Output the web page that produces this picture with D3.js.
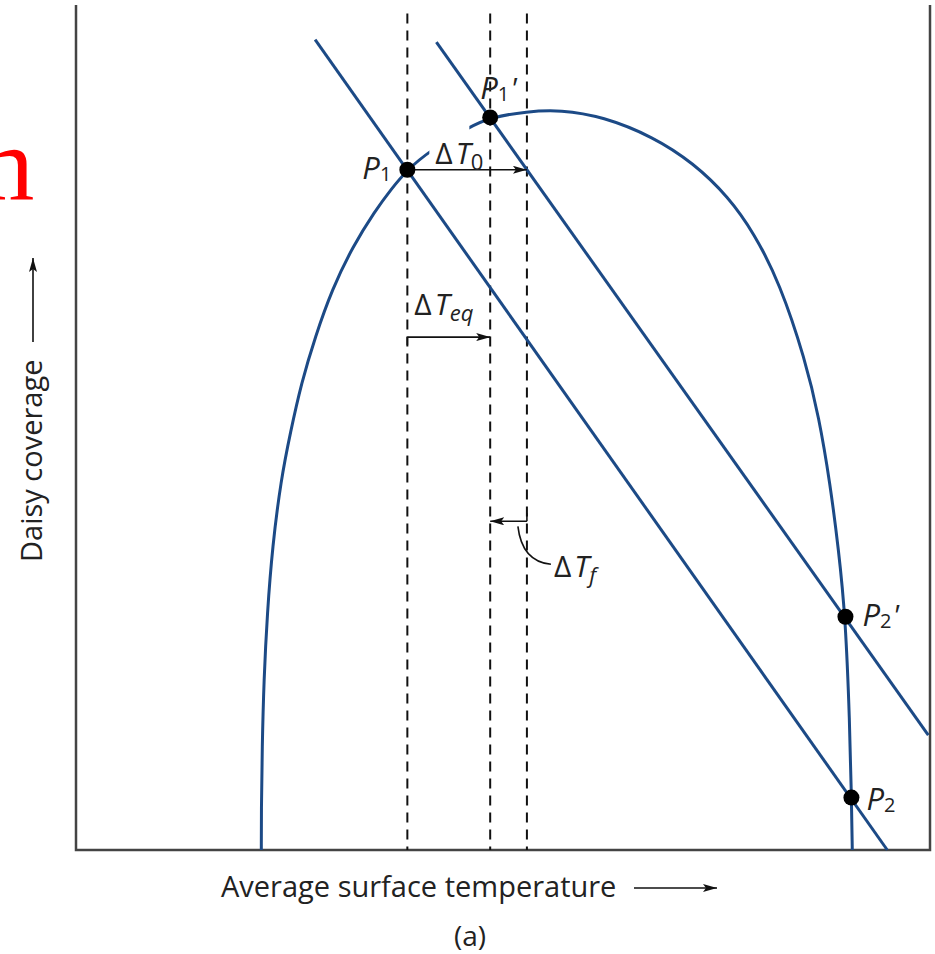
<!DOCTYPE html>
<html>
<head>
<meta charset="utf-8">
<script src="https://cdn.jsdelivr.net/npm/d3@7"></script>
<style>
  html, body { margin: 0; padding: 0; background: #fff; }
  svg { display: block; }
  text { font-family: "Open Sans", "Liberation Sans", sans-serif; fill: #222; }
</style>
</head>
<body>
<div></div>
<script>
var width = 935;
var height = 954;
var svg = d3.select('div')
    .append('svg').attr('width', width).attr('height', height);
var g = svg.append('g');

// daisy coverage vs. average surface temperature (arbitrary units 0-100)
var coverageCurve = [
    [21.7, 0], [21.7, 4.4], [21.8, 12.2], [22.0, 20.1], [22.4, 28.1], [23.0, 35.9],
    [24.0, 43.8], [25.1, 49.4], [26.4, 55.3], [28.0, 60.7], [30.0, 66.4], [32.4, 71.4],
    [35.0, 75.6], [36.9, 78.2], [38.8, 80.5], [41.5, 82.8], [46.1, 85.6], [48.5, 86.7],
    [52.8, 87.4], [56.7, 87.6], [61.7, 86.8], [67.6, 84.4], [72.3, 81.3], [76.4, 77.3],
    [79.4, 73.0], [82.4, 67.1], [85.4, 58.0], [87.0, 51.2], [88.3, 43.4], [89.3, 35.5],
    [90.1, 27.6], [90.6, 15.0], [90.8, 6.3], [90.9, 0]
];

// temperature response lines (before / after forcing)
var responseLines = [
    [[28.0, 95.9], [95.0, 0]],
    [[42.2, 95.6], [99.8, 13.6]]
];

var pointNames = ['P1', "P1'", "P2'", 'P2'];
var pointValues = [[38.8, 80.5], [48.5, 86.7], [90.1, 27.6], [90.8, 6.2]];

var dashedTemps = [38.8, 48.5, 52.8];
var dashedTop = 99;

var deltaNames = ['dT0', 'dTeq', 'dTf'];
var deltaFrom = [38.8, 38.8, 52.8];
var deltaTo = [52.8, 48.5, 48.5];
var deltaLevel = [80.5, 60.7, 38.9];

var x = d3.scaleLinear().domain([0, 100]).range([76, 930]);
var y = d3.scaleLinear().domain([0, 100]).range([850, 5]);

var blue = '#1c4a86';

svg.append('defs').append('marker')
    .attr('id', 'head')
    .attr('viewBox', '0 0 14 8')
    .attr('refX', 14).attr('refY', 4)
    .attr('markerWidth', 14).attr('markerHeight', 8)
    .attr('markerUnits', 'userSpaceOnUse')
    .attr('orient', 'auto')
    .append('path').attr('d', 'M0,0 L14,4 L0,8 L3,4 Z').attr('fill', '#111');

// frame
g.append('path')
    .attr('d', 'M' + x(0) + ',' + y(100) + 'V' + y(0) + 'H' + x(100) + 'V' + y(100))
    .attr('fill', 'none').attr('stroke', '#444').attr('stroke-width', 2.5);

// dashed verticals
g.selectAll('.dash')
    .data(dashedTemps)
    .enter()
    .append('line')
    .attr('x1', function (d) { return x(d); })
    .attr('x2', function (d) { return x(d); })
    .attr('y1', y(dashedTop))
    .attr('y2', y(0))
    .attr('stroke', '#111').attr('stroke-width', 2)
    .attr('stroke-dasharray', '10,7');

var line = d3.line()
    .x(function (d) { return x(d[0]); })
    .y(function (d) { return y(d[1]); });

g.append('path')
    .datum(coverageCurve)
    .attr('d', line.curve(d3.curveBasis))
    .attr('fill', 'none').attr('stroke', blue).attr('stroke-width', 3);

g.selectAll('.resp')
    .data(responseLines)
    .enter()
    .append('path')
    .attr('d', d3.line()
        .x(function (d) { return x(d[0]); })
        .y(function (d) { return y(d[1]); }))
    .attr('fill', 'none').attr('stroke', blue).attr('stroke-width', 3);

// knock out curve behind the delta T0 label
g.append('rect')
    .attr('x', x(deltaFrom[0]) + 22).attr('y', y(deltaLevel[0]) - 44)
    .attr('width', 40).attr('height', 34)
    .attr('fill', '#fff');

// delta arrows
deltaNames.forEach(function (name, i) {
    var yy = y(deltaLevel[i]);
    g.append('line')
        .attr('x1', x(deltaFrom[i])).attr('x2', x(deltaTo[i]))
        .attr('y1', yy).attr('y2', yy)
        .attr('stroke', '#111').attr('stroke-width', 1.6)
        .attr('marker-end', 'url(#head)');
    if (name !== 'dT0') {
        g.append('line')
            .attr('x1', x(deltaFrom[i])).attr('x2', x(deltaFrom[i]))
            .attr('y1', yy).attr('y2', name === 'dTeq' ? yy + 8 : yy - 8)
            .attr('stroke', '#111').attr('stroke-width', 1.6);
    }
});

// leader for delta Tf
var fx = x(deltaFrom[2]), fy = y(deltaLevel[2]);
g.append('path')
    .attr('d', 'M' + (fx - 9) + ',' + (fy + 5) + ' Q' + (fx - 5) + ',' + (fy + 40) + ' ' + (fx + 24) + ',' + (fy + 43))
    .attr('fill', 'none').attr('stroke', '#111').attr('stroke-width', 1.6);

// points
g.selectAll('.pt')
    .data(pointValues)
    .enter()
    .append('circle')
    .attr('cx', function (d) { return x(d[0]); })
    .attr('cy', function (d) { return y(d[1]); })
    .attr('r', 8)
    .attr('fill', '#000');

// point labels
var pointOffsets = [[-45, 9], [-10, -18], [17, 9], [15, 12]];
pointNames.forEach(function (name, i) {
    var t = g.append('text')
        .attr('x', x(pointValues[i][0]) + pointOffsets[i][0])
        .attr('y', y(pointValues[i][1]) + pointOffsets[i][1])
        .style('font-size', '31px');
    t.append('tspan').style('font-style', 'italic').text('P');
    t.append('tspan').attr('dy', 2).style('font-size', '20px').text(name.charAt(1));
    if (name.length > 2) {
        t.append('tspan').attr('dy', -2).attr('dx', 1)
            .style('font-style', 'italic')
            .style('font-size', '30px').text("'");
    }
});

// delta labels
var deltaSubs = ['0', 'eq', 'f'];
var deltaOffsets = [[28, -6], [7, -22], [27, 56]];
deltaNames.forEach(function (name, i) {
    var t = g.append('text')
        .attr('x', x(deltaFrom[i]) + deltaOffsets[i][0])
        .attr('y', y(deltaLevel[i]) + deltaOffsets[i][1])
        .style('font-size', '30px');
    t.append('tspan').text('\u0394');
    t.append('tspan').attr('dx', 3).style('font-style', 'italic').text('T');
    t.append('tspan').attr('dy', 6).style('font-size', '22px')
        .style('font-style', i === 0 ? 'normal' : 'italic').text(deltaSubs[i]);
});

// axis titles
svg.append('text')
    .attr('x', 221).attr('y', 897)
    .style('font-size', '29px')
    .text('Average surface temperature');
svg.append('line')
    .attr('x1', 634).attr('x2', 717).attr('y1', 888).attr('y2', 888)
    .attr('stroke', '#111').attr('stroke-width', 1.6)
    .attr('marker-end', 'url(#head)');

svg.append('text')
    .attr('transform', 'translate(42,562) rotate(-90)')
    .style('font-size', '29px')
    .text('Daisy coverage');
svg.append('line')
    .attr('x1', 33).attr('x2', 33).attr('y1', 342).attr('y2', 258)
    .attr('stroke', '#111').attr('stroke-width', 1.6)
    .attr('marker-end', 'url(#head)');

svg.append('text')
    .attr('x', 470).attr('y', 946)
    .attr('text-anchor', 'middle')
    .style('font-size', '28px')
    .text('(a)');

// stray red glyph at left edge
svg.append('text')
    .attr('x', -48).attr('y', 200)
    .style('font-family', '"Liberation Serif", serif')
    .style('font-size', '106px')
    .style('fill', '#ff0000')
    .text('m');
</script>
</body>
</html>
